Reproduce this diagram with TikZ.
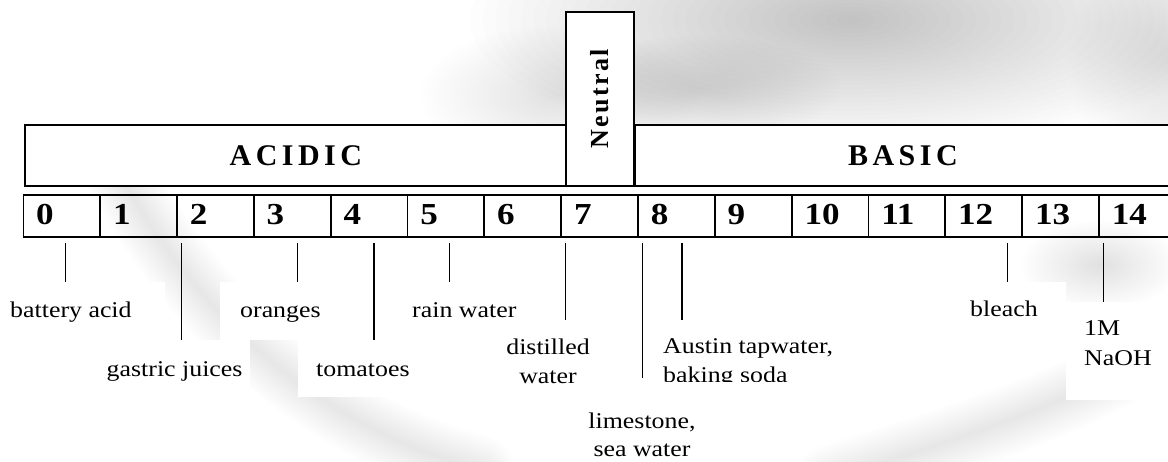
\documentclass[tikz,border=0pt]{standalone}
\usepackage{fontspec}
\setmainfont{Liberation Serif}
\newfontfamily\lblfont{Liberation Serif}[FakeStretch=1.15]
\newfontfamily\headfont{Liberation Serif}[LetterSpace=15]
\newfontfamily\neutfont{Liberation Serif}[LetterSpace=9]

% soft grey blob: centre x, centre y, x radius, y radius, peak darkness
\newcommand\softblob[5]{%
  \foreach \k in {1,...,30}{%
    \pgfmathsetmacro\blobop{#5/30}%
    \fill[black,opacity=\blobop] (#1,#2) ellipse [x radius={#3*\k/30}, y radius={#4*\k/30}];}}
% soft grey stroke: width, peak darkness, path
\newcommand\softband[3]{%
  \foreach \k in {1,...,24}{%
    \pgfmathsetmacro\bandop{#2/24}%
    \pgfmathsetmacro\bandw{#1*\k/24}%
    \draw[black,opacity=\bandop,line width=\bandw pt,line cap=round] #3;}}

\begin{document}
\begin{tikzpicture}[x=1pt,y=-1pt,
  frame/.style={draw=black,line width=1.7pt,fill=white,inner sep=0pt},
  cell/.style={draw=black,line width=1.7pt,minimum width=76.83pt,minimum height=42pt,inner sep=0pt,anchor=north west},
  num/.style={font=\lblfont\bfseries\fontsize{30.5}{30}\selectfont,anchor=base west,inner sep=0pt},
  head/.style={font=\headfont\bfseries\fontsize{30}{30}\selectfont},
  lbl/.style={font=\lblfont\fontsize{22.5}{29.5}\selectfont,inner sep=0pt},
  tick/.style={line width=1.3pt},
  wbox/.style={fill=white,inner sep=0pt,anchor=north west}]
\useasboundingbox (0,0) rectangle (1168,462);
\clip (0,0) rectangle (1168,462);
\fill[white] (0,0) rectangle (1168,462);

% faint grey watermark behind the scale
\softblob{850}{20}{380}{130}{0.24}
\softblob{700}{90}{140}{55}{0.10}
\softblob{560}{95}{140}{70}{0.07}
\softblob{1168}{60}{100}{120}{0.14}
\softblob{1100}{265}{80}{45}{0.08}
\softblob{870}{300}{90}{80}{0.04}
\softband{70}{0.08}{(120,175) .. controls (190,300) and (300,420) .. (480,470)}
\softband{70}{0.08}{(1200,320) .. controls (1100,400) and (950,440) .. (830,480)}

% white patches behind the labels
\node[wbox,minimum width=165pt,minimum height=58pt] (b0) at (0,281.7) {};
\node[wbox,minimum width=155pt,minimum height=57pt] (b2) at (95,340) {};
\node[wbox,minimum width=134pt,minimum height=58.3pt] (b3) at (220,281.7) {};
\node[wbox,minimum width=192pt,minimum height=57pt] (b4) at (298,340) {};
\node[wbox,minimum width=153pt,minimum height=38.3pt] (b5) at (393,281.7) {};
\node[wbox,minimum width=134pt,minimum height=75pt] (b7) at (490,320) {};
\node[wbox,minimum width=180pt,minimum height=90pt] (b8a) at (578,378) {};
\node[wbox,minimum width=205pt,minimum height=61pt] (b8b) at (645,320) {};
\node[wbox,minimum width=121pt,minimum height=58.3pt] (b12) at (945,281.7) {};
\node[wbox,minimum width=110pt,minimum height=98pt] (b14) at (1066,301.7) {};

% acidic / basic / neutral bands
\node[frame,head,minimum width=542pt,minimum height=61pt,anchor=north west] (acidic) at (24,124) {ACIDIC};
\node[frame,head,minimum width=536pt,minimum height=61pt,anchor=north west] (basic) at (634,124) {BASIC};
\node[frame,rotate=90,minimum width=174pt,minimum height=68pt,
      font=\neutfont\bfseries\fontsize{26}{26}\selectfont] (neutral) at (600,99) {Neutral};

% pH scale 0--14
\foreach \i in {0,...,14}{
  \node[cell] (c\i) at ({22.5+76.83*\i},194) {};
  \node[num] (n\i) at ({36+76.83*\i},225) {\i};
}

% ticks from the scale down to the examples
\coordinate (k0) at (65.8,243);
\coordinate (k2) at (181.8,243);
\coordinate (k3) at (297.7,243);
\coordinate (k4) at (373.9,243);
\coordinate (k5) at (449.7,243);
\coordinate (k7) at (565.6,243);
\coordinate (k8a) at (642.2,243);
\coordinate (k8b) at (682,243);
\coordinate (k12) at (1007.8,243);
\coordinate (k14) at (1103.6,243);
\draw[tick] (k0) -- (k0 |- b0.north);
\draw[tick] (k2) -- (k2 |- b2.north);
\draw[tick] (k3) -- (k3 |- b3.north);
\draw[tick] (k4) -- (k4 |- b4.north);
\draw[tick] (k5) -- (k5 |- b5.north);
\draw[tick] (k7) -- (k7 |- b7.north);
\draw[tick] (k8a) -- (k8a |- b8a.north);
\draw[tick] (k8b) -- (k8b |- b8b.north);
\draw[tick] (k12) -- (k12 |- b12.north);
\draw[tick] (k14) -- (k14 |- b14.north);

% example substances
\node[lbl,anchor=base west] (l0) at (10,317.3) {battery acid};
\node[lbl,anchor=base west] (l2) at (106.5,376.7) {gastric juices};
\node[lbl,anchor=base west] (l3) at (240,317.3) {oranges};
\node[lbl,anchor=base west] (l4) at (316,376.7) {tomatoes};
\node[lbl,anchor=base west] (l5) at (412,317.3) {rain water};
\node[lbl,align=center,anchor=north] (l7) at (548,338.6) {distilled\\water};
\node[lbl,align=center,anchor=north,font=\lblfont\fontsize{22.5}{28}\selectfont] (l8a) at (642,413) {limestone,\\sea water};
\begin{scope}
  \clip (b8b.north west) rectangle (b8b.south east);
  \node[lbl,align=left,anchor=north west] (l8b) at (663,338.4) {Austin tapwater,\\baking soda};
\end{scope}
\node[lbl,anchor=base west] (l12) at (970,316.7) {bleach};
\node[lbl,align=left,anchor=north west] (l14) at (1084,320.8) {1M\\NaOH};
\end{tikzpicture}
\end{document}
